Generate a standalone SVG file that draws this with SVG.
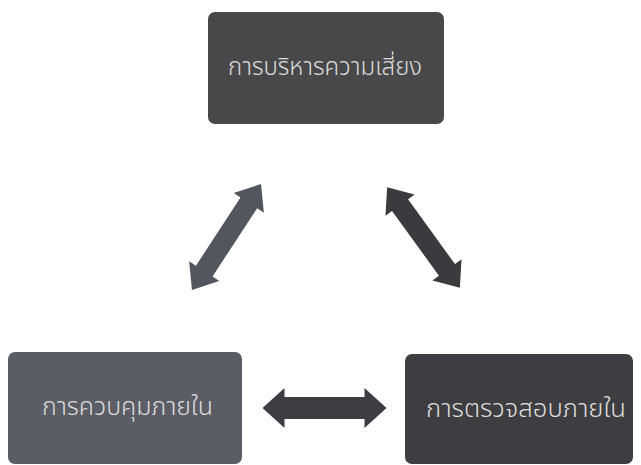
<svg xmlns="http://www.w3.org/2000/svg" width="641" height="465" viewBox="0 0 641 465">
<style>
.lbl{font-family:"Noto Sans Thai","Noto Sans","DejaVu Sans",sans-serif;font-size:24px;font-weight:300;fill:#dcdcdc;text-anchor:middle;dominant-baseline:central}
</style>
<defs>
<path id="dbl" d="M-62,0 L-40,-20 L-40,-11 L40,-11 L40,-20 L62,0 L40,20 L40,11 L-40,11 L-40,20 Z"/>
</defs>
<rect width="641" height="465" fill="#ffffff"/>
<g id="connectors">
<use href="#dbl" fill="#52565e" transform="translate(226.5,237) rotate(-56.9) scale(1.02,0.9)"/>
<use href="#dbl" fill="#3b3b3f" transform="translate(423.5,237.5) rotate(54.1) scale(1.0,0.9)"/>
<use href="#dbl" fill="#3d3e43" transform="translate(324.5,408)"/>
</g>
<g id="node-risk">
<rect x="208" y="12" width="236" height="112" rx="7" fill="#48484b"/>
<text class="lbl" x="325" y="68" textLength="194" lengthAdjust="spacingAndGlyphs">การบริหารความเสี่ยง</text>
</g>
<g id="node-control">
<rect x="8" y="352" width="234" height="112" rx="7" fill="#5a5d65"/>
<text class="lbl" x="127.5" y="408" textLength="171" lengthAdjust="spacingAndGlyphs">การควบคุมภายใน</text>
</g>
<g id="node-audit">
<rect x="405" y="354" width="228" height="110" rx="7" fill="#3e3e42"/>
<text class="lbl" x="526" y="410" textLength="200" lengthAdjust="spacingAndGlyphs">การตรวจสอบภายใน</text>
</g>
</svg>
